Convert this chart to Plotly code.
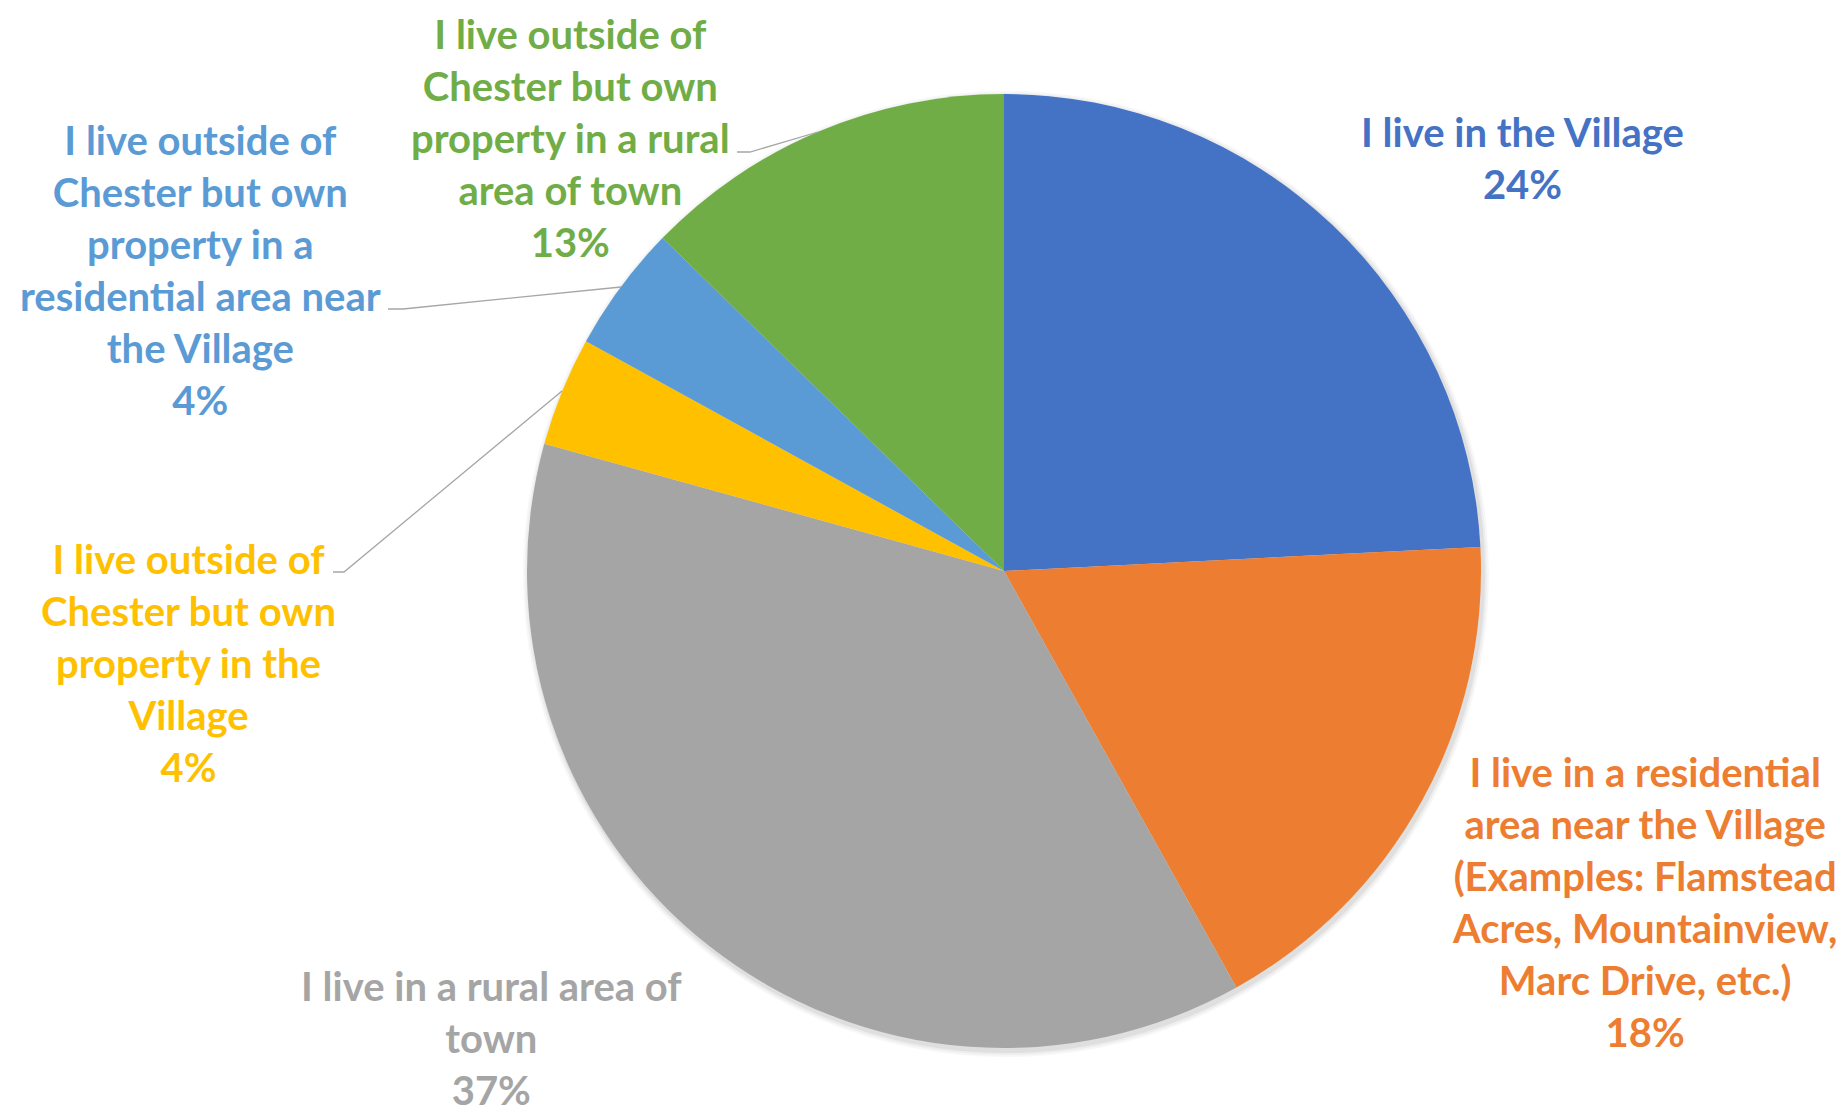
import plotly.graph_objects as go

W, H = 1846, 1113
OFF = 8  # page offset of the plot inside the browser window

categories = [
    "I live in the Village",
    "I live in a residential area near the Village (Examples: Flamstead Acres, Mountainview, Marc Drive, etc.)",
    "I live in a rural area of town",
    "I live outside of Chester but own property in the Village",
    "I live outside of Chester but own property in a residential area near the Village",
    "I live outside of Chester but own property in a rural area of town",
]
label_lines = [
    "I live in the Village",
    "I live in a residential<br>area near the Village<br>(Examples: Flamstead<br>Acres, Mountainview,<br>Marc Drive, etc.)",
    "I live in a rural area of<br>town",
    "I live outside of<br>Chester but own<br>property in the<br>Village",
    "I live outside of<br>Chester but own<br>property in a<br>residential area near<br>the Village",
    "I live outside of<br>Chester but own<br>property in a rural<br>area of town",
]
values = [24.2, 17.7, 37.4, 3.7, 4.3, 12.7]
colors = ["#4472C4", "#ED7D31", "#A5A5A5", "#FFC000", "#5B9BD5", "#70AD47"]

# label centres (pixels) and leader lines (pixel polylines)
label_pos = [(1522, 158), (1644, 902), (491, 1038), (188, 663), (200, 270), (570, 138)]
leaders = {
    3: [(333, 572), (344, 572), (562, 391)],
    4: [(388, 309), (403, 309), (621, 287)],
    5: [(737, 152), (750, 152), (818, 132)],
}

cx, cy, r = 1004, 571, 477


def px(x):
    return (x - OFF) / W


def py(y):
    return 1 - (y - OFF) / H


fig = go.Figure(go.Pie(
    labels=categories,
    values=values,
    sort=False,
    direction="clockwise",
    rotation=0,
    marker=dict(colors=colors, line=dict(width=0)),
    textinfo="none",
    hoverinfo="label+percent",
    showlegend=False,
    domain=dict(x=[px(cx - r), px(cx + r)], y=[py(cy + r), py(cy - r)]),
))

annotations = []
for i, (lab, v, col, (x, y)) in enumerate(zip(label_lines, values, colors, label_pos)):
    annotations.append(dict(
        x=px(x), y=py(y), xref="paper", yref="paper",
        text=f"{lab}<br>{round(v)}%",
        showarrow=False, xanchor="center", yanchor="middle", align="center",
        borderpad=0,
        font=dict(family="Lato", size=40, color=col, weight="bold"),
    ))

shapes = []
# soft shadow rings behind pie
for k, a in [(6, 0.03), (4, 0.04), (2, 0.06)]:
    shapes.append(dict(type="circle", xref="paper", yref="paper", layer="below",
                       x0=px(cx - r - k + 2), x1=px(cx + r + k + 2),
                       y0=py(cy + r + k + 3), y1=py(cy - r - k + 3),
                       line=dict(width=0), fillcolor=f"rgba(0,0,0,{a})"))
for i, pts in leaders.items():
    path = "M " + " L ".join(f"{px(x)},{py(y)}" for x, y in pts)
    shapes.append(dict(type="path", xref="paper", yref="paper", path=path,
                       line=dict(color="#A6A6A6", width=1.3)))

fig.update_layout(
    width=W, height=H,
    margin=dict(l=0, r=0, t=0, b=0),
    paper_bgcolor="white", plot_bgcolor="white",
    annotations=annotations, shapes=shapes,
)
fig.write_html("out.html")
